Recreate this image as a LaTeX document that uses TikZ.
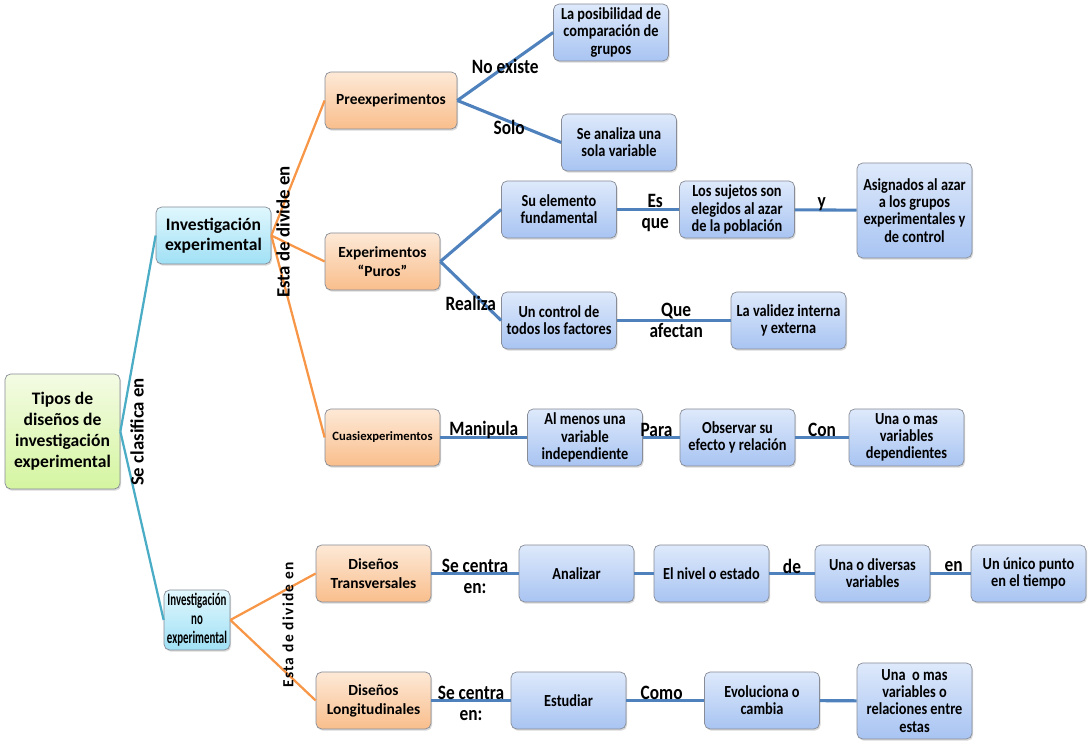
\documentclass[tikz,border=0pt]{standalone}
\usepackage{fontspec}
\setmainfont{Carlito}
\newfontfamily\spacedfont[LetterSpace=8.5]{Carlito}
\newfontfamily\squeezedfont[FakeStretch=0.62]{Carlito}
\newfontfamily\narrowfont[FakeStretch=0.85]{Carlito}
\usetikzlibrary{shadows}
\definecolor{roottop}{RGB}{244,251,228}
\definecolor{rootbottom}{RGB}{212,245,160}
\definecolor{leveltop}{RGB}{224,247,253}
\definecolor{levelbottom}{RGB}{160,224,245}
\definecolor{typetop}{RGB}{253,233,215}
\definecolor{typebottom}{RGB}{249,190,140}
\definecolor{detailtop}{RGB}{222,233,251}
\definecolor{detailbottom}{RGB}{168,196,242}
\definecolor{boxborder}{RGB}{135,140,150}
\definecolor{branchcolor}{RGB}{75,172,198}
\definecolor{splitcolor}{RGB}{247,150,70}
\definecolor{linkcolor}{RGB}{79,129,189}

\begin{document}
\begin{tikzpicture}[
    box/.style={rectangle, rounded corners=4pt, minimum width=2.875cm, minimum height=1.425cm, align=center, draw=boxborder, line width=0.5pt, inner sep=2pt, drop shadow={opacity=0.3, shadow xshift=0.8pt, shadow yshift=-1.2pt}},
    rootbox/.style={box, top color=roottop, bottom color=rootbottom, minimum height=2.875cm, font=\fontsize{12.5}{15}\selectfont\bfseries},
    levelbox/.style={box, top color=leveltop, bottom color=levelbottom, font=\fontsize{12.5}{14.5}\selectfont\bfseries},
    typebox/.style={box, top color=typetop, bottom color=typebottom, font=\fontsize{11}{13.5}\selectfont\bfseries},
    detailbox/.style={box, top color=detailtop, bottom color=detailbottom, font=\narrowfont\fontsize{12}{12.2}\selectfont\bfseries},
    branch/.style={line width=1.6pt, branchcolor},
    split/.style={line width=1.6pt, splitcolor},
    link/.style={line width=2.2pt, linkcolor},
    tag/.style={font=\narrowfont\fontsize{14.5}{15.5}\selectfont\bfseries, text=black, align=center, inner sep=1pt},
    sidetag/.style={font=\fontsize{13.4}{15}\selectfont\bfseries, text=black, rotate=90, inner sep=0pt},
    wide/.style={minimum width=3.3cm},
    tall/.style={minimum height=2.375cm}
]
\useasboundingbox (0,0) rectangle (27.275,18.6);

% Root
\node[rootbox] (tipos) at (1.5625,7.8125) {Tipos de\\diseños de\\investigación\\experimental};

% Research kinds
\node[levelbox] (invexp) at (5.3375,12.7125) {Investigación\\experimental};
\node[levelbox, minimum width=1.65cm, minimum height=1.5cm, font=\squeezedfont\fontsize{12.5}{13.5}\selectfont\bfseries] (invnoexp) at (4.925,3.1) {Investigación\\no\\experimental};

% Experimental designs
\node[typebox, wide] (preexp) at (9.775,16.0875) {Preexperimentos};
\node[typebox] (puros) at (9.5625,12.0625) {Experimentos\\“Puros”};
\node[typebox, font=\fontsize{9}{11}\selectfont\bfseries] (cuasi) at (9.5625,7.6625) {Cuasiexperimentos};

% Preexperimentos
\node[detailbox] (posibilidad) at (15.275,17.7875) {La posibilidad de\\comparación de\\grupos};
\node[detailbox] (sola) at (15.475,15.0375) {Se analiza una\\sola variable};

% Experimentos puros
\node[detailbox] (elemento) at (13.975,13.3625) {Su elemento\\fundamental};
\node[detailbox] (sujetos) at (18.425,13.3625) {Los sujetos son\\elegidos al azar\\de la población};
\node[detailbox, tall] (asignados) at (22.8625,13.3375) {Asignados al azar\\a los grupos\\experimentales y\\de control};
\node[detailbox] (control) at (13.975,10.5875) {Un control de\\todos los factores};
\node[detailbox] (validez) at (19.7125,10.5875) {La validez interna\\y externa};

% Cuasiexperimentos
\node[detailbox] (almenos) at (14.625,7.6625) {Al menos una\\variable\\independiente};
\node[detailbox] (observar) at (18.4375,7.6625) {Observar su\\efecto y relación};
\node[detailbox] (dependientes) at (22.6625,7.6625) {Una o mas\\variables\\dependientes};

% Non experimental designs
\node[typebox] (transv) at (9.3375,4.2625) {Diseños\\Transversales};
\node[typebox] (longit) at (9.3375,1.0875) {Diseños\\Longitudinales};

% Transversales
\node[detailbox] (analizar) at (14.4125,4.2625) {Analizar};
\node[detailbox] (nivel) at (17.7875,4.2625) {El nivel o estado};
\node[detailbox] (diversas) at (21.8125,4.2625) {Una o diversas\\variables};
\node[detailbox] (unico) at (25.7125,4.2625) {Un único punto\\en el tiempo};

% Longitudinales
\node[detailbox] (estudiar) at (14.2125,1.0875) {Estudiar};
\node[detailbox] (evoluciona) at (19.05,1.0875) {Evoluciona o\\cambia};
\node[detailbox, minimum height=1.9cm] (relaciones) at (22.8625,1.075) {Una~ o mas\\variables o\\relaciones entre\\estas};

% Lines
\draw[branch] (tipos.east) -- (invexp.west);
\draw[branch] (tipos.east) -- (invnoexp.west);

\draw[split] (invexp.east) -- (preexp.west);
\draw[split] (invexp.east) -- (puros.west);
\draw[split] (invexp.east) -- (cuasi.west);
\draw[split] (invnoexp.east) -- (transv.west);
\draw[split] (invnoexp.east) -- (longit.west);

\draw[link] (preexp.east) -- node[tag, midway] {No existe} (posibilidad.west);
\draw[link] (preexp.east) -- node[tag, midway, yshift=-0.15cm] {Solo} (sola.west);

\draw[link] (puros.east) -- (elemento.west);
\draw[link] (puros.east) -- node[tag, midway, yshift=-0.31cm] {Realiza} (control.west);
\draw[link] (elemento) -- node[tag, midway, xshift=0.18cm, yshift=-0.09cm] {Es\\que} (sujetos);
\draw[link] (sujetos) -- node[tag, midway, xshift=-0.1cm, yshift=0.15cm] {y} (asignados);
\draw[link] (control) -- node[tag, midway, xshift=0.06cm] {Que\\afectan} (validez);

\draw[link] (cuasi) -- node[tag, midway, yshift=0.18cm] {Manipula} (almenos);
\draw[link] (almenos) -- node[tag, midway, xshift=-0.12cm, yshift=0.18cm] {Para} (observar);
\draw[link] (observar) -- node[tag, midway, yshift=0.18cm] {Con} (dependientes);

\draw[link] (transv) -- node[tag, midway, yshift=-0.07cm] {Se centra\\en:} (analizar);
\draw[link] (analizar) -- (nivel);
\draw[link] (nivel) -- node[tag, midway, yshift=0.18cm] {de} (diversas);
\draw[link] (diversas) -- node[tag, midway, xshift=0.08cm, yshift=0.18cm] {en} (unico);

\draw[link] (longit) -- node[tag, midway, yshift=-0.07cm] {Se centra\\en:} (estudiar);
\draw[link] (estudiar) -- node[tag, midway, xshift=-0.09cm, yshift=0.2cm] {Como} (evoluciona);
\draw[link] (evoluciona) -- (relaciones);

% Side labels
\node[sidetag] (clasifica) at (3.425,7.8) {Se clasifica en};
\node[sidetag] (divideexp) at (7.075,12.8) {Esta de divide en};
\node[sidetag, font=\spacedfont\fontsize{11}{13}\selectfont\bfseries] (dividenoexp) at (7.2,2.975) {Esta de divide en};

\end{tikzpicture}
\end{document}
